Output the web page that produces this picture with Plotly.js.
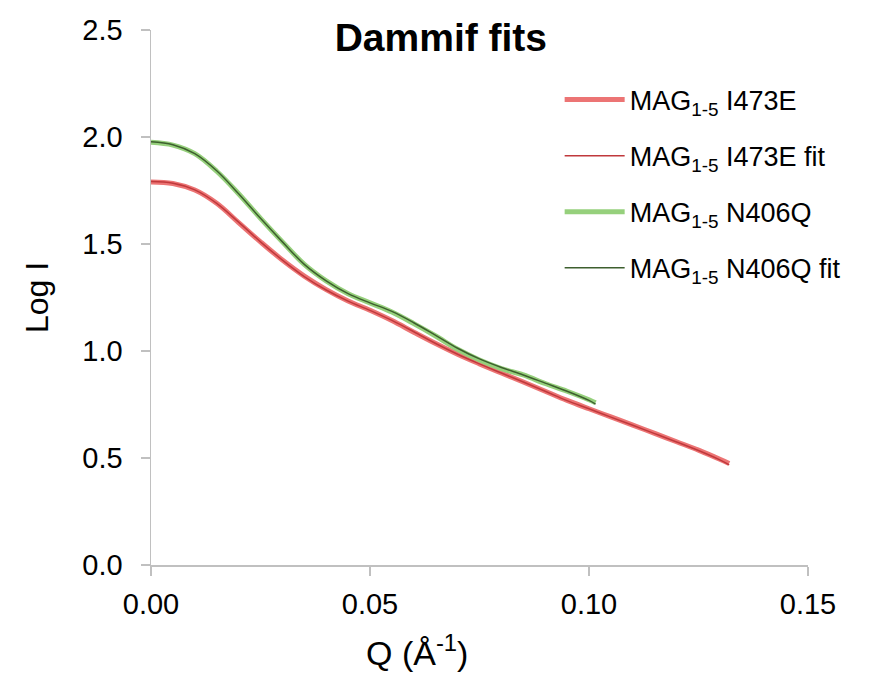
<!DOCTYPE html>
<html>
<head>
<meta charset="utf-8">
<script src="https://cdn.plot.ly/plotly-3.0.1.min.js"></script>
<style>html,body{margin:0;padding:0;background:#fff;}#chart{width:873px;height:673px;}</style>
</head>
<body>
<div id="chart"></div>
<script>
// Q values (Å^-1)
const qRed = [0, 0.005, 0.01, 0.015, 0.02, 0.025, 0.03, 0.035, 0.04, 0.045, 0.05, 0.055, 0.06, 0.065, 0.07, 0.075, 0.08, 0.085, 0.09, 0.095, 0.10, 0.105, 0.11, 0.115, 0.12, 0.125, 0.13, 0.132];
const i473e = [1.79, 1.783, 1.752, 1.69, 1.60, 1.51, 1.425, 1.35, 1.287, 1.234, 1.19, 1.142, 1.088, 1.035, 0.985, 0.94, 0.897, 0.855, 0.812, 0.769, 0.73, 0.692, 0.654, 0.615, 0.576, 0.537, 0.493, 0.474];
const i473eFit = [1.792, 1.784, 1.753, 1.69, 1.602, 1.51, 1.425, 1.348, 1.285, 1.233, 1.19, 1.143, 1.09, 1.035, 0.985, 0.94, 0.897, 0.855, 0.812, 0.768, 0.73, 0.691, 0.653, 0.614, 0.575, 0.535, 0.49, 0.468];
const qGreen = [0, 0.005, 0.01, 0.015, 0.02, 0.025, 0.03, 0.035, 0.04, 0.045, 0.05, 0.055, 0.06, 0.065, 0.07, 0.075, 0.08, 0.085, 0.09, 0.095, 0.10, 0.1015];
const n406q = [1.975, 1.962, 1.922, 1.84, 1.735, 1.62, 1.51, 1.405, 1.328, 1.268, 1.225, 1.182, 1.128, 1.07, 1.008, 0.958, 0.918, 0.888, 0.848, 0.812, 0.772, 0.758];
const n406qFit = [1.978, 1.964, 1.922, 1.842, 1.735, 1.62, 1.51, 1.405, 1.328, 1.268, 1.225, 1.185, 1.132, 1.073, 1.013, 0.963, 0.923, 0.888, 0.85, 0.812, 0.769, 0.752];
const seriesNames = ["MAG<sub>1-5</sub> I473E", "MAG<sub>1-5</sub> I473E fit", "MAG<sub>1-5</sub> N406Q", "MAG<sub>1-5</sub> N406Q fit"];
const xTickVals = [0, 0.05, 0.10, 0.15];
const yTickVals = [0, 0.5, 1.0, 1.5, 2.0, 2.5];

const FONT = "Liberation Sans, Arial, sans-serif";
const traces = [
  {x: qRed, y: i473e, name: seriesNames[0], mode: "lines", line: {color: "#ec7474", width: 5, shape: "spline", smoothing: 1}, legendgroup: "a"},
  {x: qRed, y: i473eFit, name: seriesNames[1], mode: "lines", line: {color: "#c0393c", width: 1.5, shape: "spline", smoothing: 1}, legendgroup: "b"},
  {x: qGreen, y: n406q, name: seriesNames[2], mode: "lines", line: {color: "#96d07c", width: 5, shape: "spline", smoothing: 1}, legendgroup: "c"},
  {x: qGreen, y: n406qFit, name: seriesNames[3], mode: "lines", line: {color: "#3d5f2e", width: 1.5, shape: "spline", smoothing: 1}, legendgroup: "d"}
];
const axisCommon = {
  showline: true, linecolor: "#c0c0c0", linewidth: 1.5, ticks: "outside", ticklen: 9,
  tickcolor: "#c0c0c0", tickwidth: 1.5, showgrid: false, zeroline: false,
  tickfont: {family: FONT, size: 29, color: "#000"}
};
const layout = {
  width: 873, height: 673,
  margin: {l: 151, r: 65, t: 30, b: 108},
  paper_bgcolor: "#fff", plot_bgcolor: "#fff",
  title: {text: "<b>Dammif fits</b>", font: {family: FONT, size: 39, color: "#000"}, x: 0.505, xanchor: "center", y: 0.945, yanchor: "middle"},
  xaxis: Object.assign({}, axisCommon, {range: [0, 0.15], tickvals: xTickVals, tickformat: ".2f", ticklabelstandoff: 4}),
  yaxis: Object.assign({}, axisCommon, {range: [0, 2.5], tickvals: yTickVals, tickformat: ".1f", ticklabelstandoff: 12,
    title: {text: "Log I", font: {family: FONT, size: 32, color: "#000"}, standoff: 24}}),
  showlegend: true,
  legend: {x: 0.622, xanchor: "left", y: 0.915, yanchor: "top", traceorder: "grouped", tracegroupgap: 18,
    itemwidth: 60, font: {family: FONT, size: 27, color: "#000"}, bgcolor: "rgba(0,0,0,0)"},
  annotations: [{text: "Q (Å<sup>-1</sup>)", xref: "paper", yref: "paper", x: (417 - 151) / 657, y: -0.16,
    xanchor: "center", yanchor: "middle", showarrow: false, font: {family: FONT, size: 34, color: "#000"}}]
};
Plotly.newPlot("chart", traces, layout, {displayModeBar: false, staticPlot: true});
</script>
</body>
</html>
